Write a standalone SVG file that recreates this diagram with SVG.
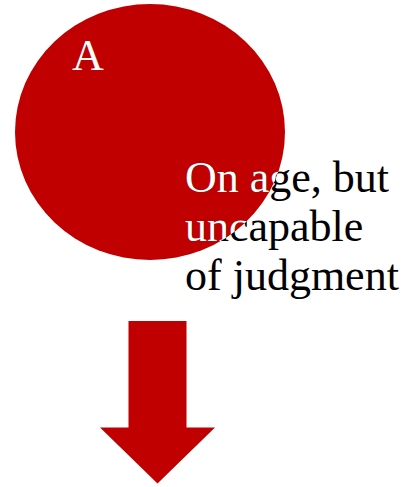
<svg xmlns="http://www.w3.org/2000/svg" width="408" height="487" viewBox="0 0 408 487">
<style>
.t{font-family:"Liberation Serif","Times New Roman",serif;font-size:44px}
.red{fill:#c00000}
</style>
<defs>
<clipPath id="cc"><ellipse cx="150" cy="132" rx="135" ry="128"/></clipPath>
</defs>
<g id="nodeA">
<ellipse class="red" cx="150" cy="132" rx="135" ry="128"/>
<text class="t" x="72" y="70" fill="#fff">A</text>
</g>
<g id="label">
<text class="t" fill="#000"><tspan x="185" y="192">On age, but</tspan><tspan x="185" y="241">uncapable</tspan><tspan x="185" y="290">of judgment</tspan></text>
<g clip-path="url(#cc)">
<text class="t" fill="#fff"><tspan x="185" y="192">On age, but</tspan><tspan x="185" y="241">uncapable</tspan><tspan x="185" y="290">of judgment</tspan></text>
</g>
</g>
<g id="connectors">
<polygon class="red" points="128.5,321 186.5,321 186.5,427.5 215,427.5 157.5,483.5 100,427.5 128.5,427.5"/>
</g>
</svg>
